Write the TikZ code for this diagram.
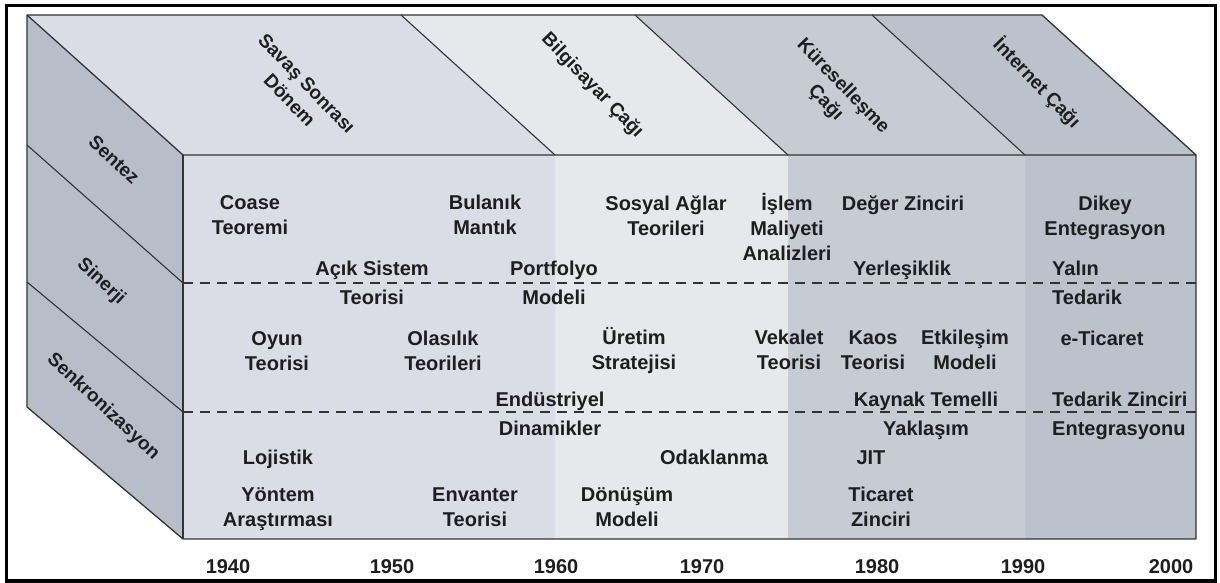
\documentclass[tikz,border=0pt]{standalone}
\usepackage{fontspec}
\setmainfont{Liberation Sans}
\definecolor{bandA}{HTML}{DADDE5}
\definecolor{bandB}{HTML}{E7E8EC}
\definecolor{bandC}{HTML}{C6CBD4}
\definecolor{bandD}{HTML}{BCC2CC}
\definecolor{sideface}{HTML}{B8BEC9}
\definecolor{edgegray}{HTML}{333333}
\definecolor{ink}{HTML}{1E1E1E}
\begin{document}
\begin{tikzpicture}[x=1pt,y=-1pt,
  edge/.style={draw=edgegray,line width=1.3pt,line join=round},
  divider/.style={draw=edgegray,line width=1.1pt},
  layerline/.style={draw=edgegray,line width=1.2pt,dash pattern=on 10pt off 7pt},
  lbl/.style={font=\fontsize{20}{25}\selectfont\bfseries,align=center,inner sep=0pt,text=ink},
  lbll/.style={lbl,align=left,anchor=west},
  toplbl/.style={font=\fontsize{19}{24}\selectfont\bfseries,align=center,inner sep=0pt,text=ink,rotate=-46},
  sidelbl/.style={font=\fontsize{19}{24}\selectfont\bfseries,align=center,inner sep=0pt,text=ink,rotate=-43},
  year/.style={font=\fontsize{20}{25}\selectfont\bfseries,inner sep=0pt,text=ink}]
\useasboundingbox (0,0) rectangle (1220,583);
\fill[white] (0,0) rectangle (1220,583);

% cube corners
\coordinate (bl) at (27,15);     % back top left
\coordinate (br) at (1042,15);   % back top right
\coordinate (ftl) at (183,155);  % front top left
\coordinate (ftr) at (1196,155); % front top right
\coordinate (fbl) at (183,539);  % front bottom left
\coordinate (fbr) at (1196,539); % front bottom right
\coordinate (bbl) at (27,407);   % back bottom left

% top face bands
\fill[bandA] (27,15) -- (401,15) -- (555,155) -- (183,155) -- cycle;
\fill[bandB] (401,15) -- (635,15) -- (788,155) -- (555,155) -- cycle;
\fill[bandC] (635,15) -- (872,15) -- (1025,155) -- (788,155) -- cycle;
\fill[bandD] (872,15) -- (1042,15) -- (1196,155) -- (1025,155) -- cycle;
% front face bands
\fill[bandA] (183,155) rectangle (555,539);
\fill[bandB] (555,155) rectangle (788,539);
\fill[bandC] (788,155) rectangle (1025,539);
\fill[bandD] (1025,155) rectangle (1196,539);
% side face
\fill[sideface] (bl) -- (ftl) -- (fbl) -- (bbl) -- cycle;

% era dividers on the top face
\draw[divider] (401,15) -- (555,155);
\draw[divider] (635,15) -- (788,155);
\draw[divider] (872,15) -- (1025,155);
% layer dividers on the side face
\draw[divider] (27,145) -- (183,283);
\draw[divider] (27,282) -- (183,412);
% layer boundaries on the front face
\draw[layerline] (183,283) -- (1198,283);
\draw[layerline] (183,412) -- (1198,412);

% cube outline
\draw[edge] (bl) -- (br) -- (ftr) -- (fbr) -- (fbl) -- (bbl) -- cycle;
\draw[edge] (bl) -- (ftl) -- (ftr);
\draw[edge] (ftl) -- (fbl);

% era labels
\node[toplbl] (savas) at (297,93) {Savaş Sonrası\strut\\Dönem\strut};
\node[toplbl] (bilgisayar) at (592,86) {Bilgisayar Çağı\strut};
\node[toplbl] (kuresel) at (834,95) {Küreselleşme\strut\\Çağı\strut};
\node[toplbl] (internet) at (1036,84) {İnternet Çağı\strut};

% layer labels
\node[sidelbl] (sentez) at (113,161) {Sentez\strut};
\node[sidelbl] (sinerji) at (101,282) {Sinerji\strut};
\node[sidelbl] (senkron) at (103,407) {Senkronizasyon\strut};

% Sentez layer
\node[lbl] (coase) at (250,216.5) {Coase\strut\\Teoremi\strut};
\node[lbl] (bulanik) at (485,216.5) {Bulanık\strut\\Mantık\strut};
\node[lbl] (sosyal) at (666,217.5) {Sosyal Ağlar\strut\\Teorileri\strut};
\node[lbl] (islem) at (787,230) {İşlem\strut\\Maliyeti\strut\\Analizleri\strut};
\node[lbl] (deger) at (903,205) {Değer Zinciri\strut};
\node[lbl] (dikey) at (1105,217.5) {Dikey\strut\\Entegrasyon\strut};
\node[lbl] (acik) at (372,284.5) {Açık Sistem\strut\\[4pt]Teorisi\strut};
\node[lbl] (portfolyo) at (554,284.5) {Portfolyo\strut\\[4pt]Modeli\strut};
\node[lbl] (yerlesik) at (902,270) {Yerleşiklik\strut};
\node[lbll] (yalin) at (1052,284.5) {Yalın\strut\\[4pt]Tedarik\strut};

% Sinerji layer
\node[lbl] (oyun) at (277,352.5) {Oyun\strut\\Teorisi\strut};
\node[lbl] (olasilik) at (443,352.5) {Olasılık\strut\\Teorileri\strut};
\node[lbl] (uretim) at (634,352) {Üretim\strut\\Stratejisi\strut};
\node[lbl] (vekalet) at (789,352) {Vekalet\strut\\Teorisi\strut};
\node[lbl] (kaos) at (873,352) {Kaos\strut\\Teorisi\strut};
\node[lbl] (etkilesim) at (965,352) {Etkileşim\strut\\Modeli\strut};
\node[lbl] (eticaret) at (1102,340) {e-Ticaret\strut};
\node[lbl] (endustri) at (550,415.5) {Endüstriyel\strut\\[4pt]Dinamikler\strut};
\node[lbl] (kaynak) at (926,415.5) {Kaynak Temelli\strut\\[4pt]Yaklaşım\strut};
\node[lbll] (tzincir) at (1052,415.5) {Tedarik Zinciri\strut\\[4pt]Entegrasyonu\strut};

% Senkronizasyon layer
\node[lbl] (lojistik) at (278,459) {Lojistik\strut};
\node[lbl] (odak) at (714,459) {Odaklanma\strut};
\node[lbl] (jit) at (871,459) {JIT\strut};
\node[lbl] (yontem) at (278,508.5) {Yöntem\strut\\Araştırması\strut};
\node[lbl] (envanter) at (475,508.5) {Envanter\strut\\Teorisi\strut};
\node[lbl] (donusum) at (627,508.5) {Dönüşüm\strut\\Modeli\strut};
\node[lbl] (ticaret) at (881,508.5) {Ticaret\strut\\Zinciri\strut};

% time axis
\node[year] (y1940) at (228,568) {1940\strut};
\node[year] (y1950) at (392,568) {1950\strut};
\node[year] (y1960) at (556,568) {1960\strut};
\node[year] (y1970) at (702,568) {1970\strut};
\node[year] (y1980) at (877,568) {1980\strut};
\node[year] (y1990) at (1023,568) {1990\strut};
\node[year] (y2000) at (1171,568) {2000\strut};

% frame
\draw[black,line width=3.5pt] (6.5,5.5) rectangle (1215.5,581);
\end{tikzpicture}
\end{document}
